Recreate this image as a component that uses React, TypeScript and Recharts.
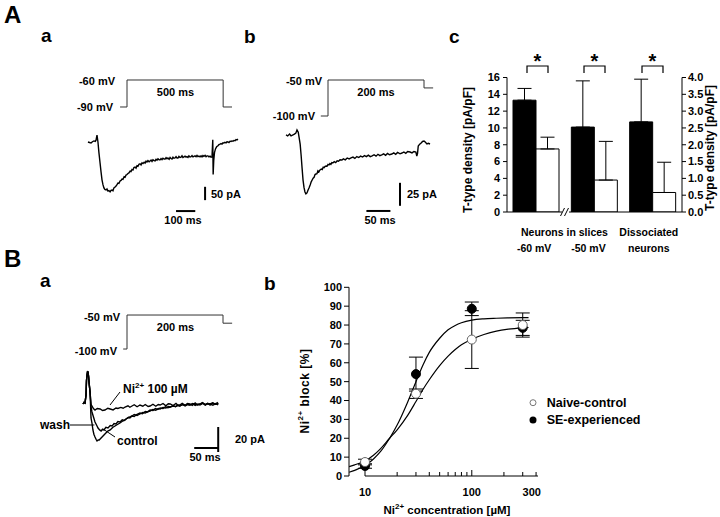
import React from 'react';
import {
  LineChart, Line, XAxis, YAxis, ReferenceLine,
  BarChart, Bar, ErrorBar, ComposedChart, Scatter, Legend,
} from 'recharts';

type Pt = [number, number];
type Seg = [Pt, Pt];

// ================= DATA =================
// Panel A a — voltage protocol (ms, mV) and T-current trace (ms, pA)
const aaProtocol: Pt[] = [[-36, -90], [0, -90], [0, -60], [500, -60], [500, -90], [546, -90]];
const aaCurrent: Pt[] = [
  [-203, 0], [-195, -2], [-187, -4], [-180, 1], [-172, 4], [-165, 2], [-161, 7], [-156, 26], [-151, 0],
  [-146, -40], [-140, -79], [-135, -112], [-130, -142], [-125, -160], [-120, -172], [-115, -178], [-109, -180],
  [-104, -176], [-99, -184], [-94, -182], [-88, -187], [-83, -181], [-78, -180], [-73, -183], [-68, -172],
  [-62, -169], [-57, -165], [-52, -160], [-47, -154], [-42, -155], [-36, -146], [-31, -144], [-26, -139],
  [-21, -140], [-15, -130], [-10, -132], [-5, -124], [0, -122], [5, -118], [10, -116], [16, -109], [21, -111],
  [26, -103], [31, -105], [36, -96], [42, -94], [47, -98], [52, -89], [57, -91], [62, -84], [68, -82], [73, -86],
  [78, -78], [83, -81], [89, -76], [94, -79], [99, -72], [104, -75], [109, -70], [115, -74], [120, -71], [125, -68],
  [130, -73], [135, -67], [141, -70], [146, -71], [151, -65], [156, -68], [161, -63], [167, -67], [172, -67],
  [177, -62], [182, -66], [187, -61], [193, -64], [198, -64], [203, -59], [208, -63], [213, -60], [219, -65],
  [224, -58], [229, -62], [234, -64], [239, -57], [244, -61], [250, -60], [255, -55], [260, -60], [265, -60],
  [270, -54], [276, -58], [281, -57], [286, -52], [291, -58], [296, -56], [302, -53], [307, -57], [312, -55],
  [317, -58], [322, -52], [328, -56], [333, -55], [338, -51], [343, -56], [348, -54], [354, -52], [359, -55],
  [364, -50], [369, -55], [374, -53], [380, -56], [385, -52], [390, -56], [395, -51], [400, -54], [406, -50],
  [411, -55], [416, -52], [421, -52], [426, -56], [432, -53], [437, -57], [442, -56], [446, 8], [448, -122],
  [451, -70], [455, -40], [460, -26], [466, -18], [473, -14], [478, -10], [484, -8], [489, -6], [494, -8],
  [499, -3], [504, -4], [509, -1], [515, -3], [520, 1], [525, 0], [530, -2], [536, 3], [541, 2], [546, 4],
  [551, 3], [556, 6], [562, 5], [567, 9], [572, 8], [577, 11],
];

// Panel A b
const abProtocol: Pt[] = [[-15, -100], [0, -100], [0, -50], [200, -50], [200, -61], [219, -61]];
const abCurrent: Pt[] = [
  [-87.5, 0], [-84, -1], [-80, 1], [-77, -1], [-73, 0], [-70, 1], [-67, 2], [-64.6, 5.4], [-62, 3], [-60.4, -2],
  [-58, -10], [-56, -22], [-54, -36], [-52, -49], [-50, -57], [-48, -62], [-46, -64], [-43.8, -63], [-41.7, -60],
  [-39.6, -57.6], [-37, -54], [-35, -51], [-33, -48.9], [-31, -47], [-29, -46], [-27, -43], [-25, -42.4], [-23, -42],
  [-21, -39], [-19, -40], [-16.7, -38], [-14, -37], [-12, -37.5], [-10, -35], [-8, -35.5], [-6, -34], [-4, -33.7],
  [-2, -34], [0, -32], [2, -32.5], [4, -31], [6, -32], [8, -30], [10, -30.4], [13, -29], [16, -30], [19, -28],
  [22, -28.5], [25, -27], [29, -27.2], [32, -26], [36, -27], [40, -25], [44, -26], [48, -25], [52, -24],
  [56, -25.5], [60, -23.5], [64, -24.5], [68, -23], [72, -24], [76, -22.5], [80, -23.5], [84, -22], [88, -23.5],
  [92, -22.8], [96, -21.5], [100, -23], [104, -21], [108, -22.5], [112, -21.7], [116, -20.5], [120, -22],
  [124, -20], [128, -21.5], [133, -20.7], [137, -19.5], [141, -21], [145, -19], [150, -20.5], [154, -19.6],
  [158, -18.5], [162, -20], [166, -18], [171, -18.5], [175, -19.5], [179, -18], [183, -18.5], [185, -23],
  [186.5, -20], [188, -12], [191, -10], [194, -8.7], [197, -7], [200, -6.5], [203, -8], [206, -9.8], [209, -9],
  [212.5, -9.8],
];

// Panel A c — T-type density (slices: pA/pF left axis; dissociated: pA/pF right axis)
const acCategories = ['Neurons in slices -60 mV', 'Neurons in slices -50 mV', 'Dissociated neurons'];
const acTickLines = [['', '-60 mV'], ['', '-50 mV'], ['Dissociated', 'neurons']];
const acSliceBlack = [13.3, 10.1];
const acSliceBlackSD = [1.4, 5.5];
const acSliceWhite = [7.5, 3.8];
const acSliceWhiteSD = [1.4, 4.6];
const acDissBlack = 2.68;
const acDissBlackSD = 1.27;
const acDissWhite = 0.58;
const acDissWhiteSD = 0.9;
const acLeftTicks = [0, 2, 4, 6, 8, 10, 12, 14, 16];
const acRightTicks = [0, 0.5, 1, 1.5, 2, 2.5, 3, 3.5, 4];

// Panel B a
const baProtocol: Pt[] = [[-8, -100], [0, -100], [0, -50], [200, -50], [200, -62], [219, -62]];
const baOnset: Pt[] = [
  [-91.7, -0.8], [-89.6, 0.5], [-87.5, 0], [-85.4, 6.4], [-84.4, 18], [-83.3, 22.4], [-82.3, 25],
  [-81.25, 24.8], [-80, 21], [-79, 16], [-77, 8.8],
];
const baNi: Pt[] = [
  [-75, -1], [-73, -2.4], [-70, -4.5], [-66.7, -5.6], [-62, -4.4], [-56, -4.8], [-51, -6], [-46, -5.6],
  [-40, -4.2], [-35, -4.8], [-29, -5.5], [-23, -4], [-19, -4.4], [-13, -3.5], [-8, -4.2], [-4, -3.2], [2, -2.2],
  [6, -3.4], [10.4, -2.4], [15, -1.4], [21, -3], [27, -1.6], [33, -2.6], [38, -1.2], [44, -2.8], [48, -2.4],
  [54, -1], [60, -2.6], [65, -1.2], [69, -1.6], [75, -0.4], [81, -2.2], [86, -0.6], [90, -0.8], [96, -2],
  [102, -0.4], [106, -1.8], [110, -1.6], [115, -0.2], [121, -1.8], [126, -0.4], [131, -0.8], [136, -2],
  [142, 0], [147, -1.6], [152, -0.8], [157, 0.4], [163, -1.4], [168, -0.2], [173, -1.6], [178, 0],
  [183, -1.2], [188, 0.2], [190, -0.8],
];
const baWash: Pt[] = [
  [-75, -3], [-73, -7.2], [-70, -11], [-66.7, -15.2], [-63, -18], [-60.4, -20], [-57, -21.5], [-54, -22.4],
  [-51, -21], [-48, -21.6], [-44, -19.5], [-39.6, -20], [-35, -18], [-31, -18.4], [-27, -16.5], [-23, -16.8],
  [-19, -14.8], [-14.6, -15.2], [-10, -13.5], [-6, -14], [-2, -12.8], [3, -11.5], [6, -12], [10.4, -10.4],
  [15, -10.8], [20, -9.2], [27, -8], [32, -8.6], [38, -6.8], [43, -7.2], [48, -5.6], [54, -6], [59, -4.4],
  [64, -5.2], [69, -4], [75, -4.4], [80, -3], [85, -3.8], [90, -3.2], [96, -2], [101, -3], [106, -2], [110, -2.4],
  [116, -1.2], [121, -2.4], [126, -1.4], [131, -1.6], [137, -0.6], [142, -2], [147, -1], [152, -1.6],
  [158, -0.4], [163, -1.8], [168, -0.6], [173, -0.8], [179, -1.8], [184, -0.4], [190, -1.6],
];
const baControl: Pt[] = [
  [-75, -12], [-73, -16], [-71, -21.6], [-69, -25], [-66.7, -27.2], [-64.5, -29], [-62.5, -30.4], [-60, -29.6],
  [-58, -29.6], [-55, -28.4], [-52, -27.2], [-48, -25.6], [-44, -24], [-40, -22.4], [-35, -21.6], [-30, -19.6],
  [-25, -18.4], [-20, -17.2], [-14.6, -16], [-9, -14.4], [-4, -13.6], [-2, -12.8], [4, -11.6], [10.4, -10.4],
  [15, -9.2], [21, -10], [27, -8.8], [33, -7.6], [38, -8], [44, -6.8], [48, -6.4], [54, -5.2], [60, -5.8],
  [65, -4.4], [69, -4.8], [75, -3.6], [81, -4], [86, -2.8], [90, -3.2], [96, -2.4], [101, -2.8], [106, -1.6],
  [110, -2.4], [116, -1.2], [121, -2], [126, -0.8], [131, -1.6], [137, -0.4], [142, -1.2], [147, -1.2],
  [152, -0.8], [158, 0], [163, -1.2], [168, -0.4], [173, -0.8], [179, 0.2], [184, -1], [190, -0.8],
];

// Panel B b — Ni2+ dose response
const bbConc = [10, 30, 100, 300];
const bbNaive = [7.4, 43.6, 72.3, 80.0];
const bbNaiveSEM = [1.5, 2.5, 15.3, 6.4];
const bbSE = [5.3, 54.0, 88.6, 78.5];
const bbSESEM = [1.2, 9.0, 3.6, 4.0];
const bbFitConc = [7.1, 8, 9, 10, 12, 14, 17, 20, 25, 30, 35, 40, 50, 60, 70, 80, 100, 130, 170, 220, 300, 340];
const bbFitSE = [2, 3, 4.2, 5.5, 9, 13, 20, 27, 39, 50, 59, 65.5, 73, 77.5, 79.8, 81.2, 82.6, 83.3, 83.6, 83.8, 83.9, 83.9];
const bbFitNaive = [5, 5.9, 6.9, 8, 11, 14.5, 20, 24.5, 32, 39.5, 46, 51, 58.5, 63.5, 67, 69.5, 72.5, 75, 76.8, 77.8, 78.5, 78.7];
const bbXTicks = [10, 20, 30, 40, 50, 60, 70, 80, 90, 100, 200, 300, 400];
const bbXLabels = [10, 100, 300];
const bbYTicks = [0, 10, 20, 30, 40, 50, 60, 70, 80, 90, 100];
const bbLegend = ['Naive-control', 'SE-experienced'];

// ================= HELPERS =================
const FONT = "'Liberation Sans', Arial, Helvetica, sans-serif";
const tickStyle = { fontSize: 11, fontWeight: 700, fill: '#000' };

interface TraceProps {
  left: number; top: number; width: number; height: number;
  tDomain: [number, number]; vDomain: [number, number]; iDomain: [number, number];
  protocol: Pt[]; currents: Pt[][]; bars: Seg[]; leaders?: Seg[];
}

const toRows = (pts: Pt[], key: string) => pts.map(([t, val]) => ({ t, [key]: val }));

function TracePanel(p: TraceProps) {
  return (
    <div style={{ position: 'absolute', left: p.left, top: p.top }}>
      <LineChart width={p.width} height={p.height} margin={{ top: 0, right: 0, bottom: 0, left: 0 }}>
        <XAxis type="number" dataKey="t" domain={p.tDomain} allowDataOverflow hide />
        <YAxis yAxisId="v" type="number" domain={p.vDomain} allowDataOverflow hide />
        <YAxis yAxisId="i" type="number" domain={p.iDomain} allowDataOverflow hide />
        <Line yAxisId="v" data={toRows(p.protocol, 'v')} dataKey="v" type="linear" stroke="#333"
          strokeWidth={1} dot={false} isAnimationActive={false} />
        {p.currents.map((c, k) => (
          <Line key={'c' + k} yAxisId="i" data={toRows(c, 'i')} dataKey="i" type="linear" stroke="#000"
            strokeWidth={1.4} dot={false} isAnimationActive={false} />
        ))}
        {p.bars.map((s, k) => (
          <ReferenceLine key={'b' + k} yAxisId="i" segment={[{ x: s[0][0], y: s[0][1] }, { x: s[1][0], y: s[1][1] }]}
            stroke="#000" strokeWidth={2} />
        ))}
        {(p.leaders || []).map((s, k) => (
          <ReferenceLine key={'l' + k} yAxisId="i" segment={[{ x: s[0][0], y: s[0][1] }, { x: s[1][0], y: s[1][1] }]}
            stroke="#000" strokeWidth={1} />
        ))}
      </LineChart>
    </div>
  );
}

const acDx = [-2, -6, -4];
function AcTick(props: any) {
  const { x, y, payload } = props;
  const idx = acCategories.indexOf(payload.value);
  const lines = acTickLines[idx] || ['', ''];
  return (
    <g>
      {lines.map((l, k) => (
        <text key={k} x={x + acDx[idx]} y={y + 24 + k * 16} textAnchor="middle" fontSize={10.5} fontWeight={700} fill="#000">{l}</text>
      ))}
    </g>
  );
}

function BbTick(props: any) {
  const { x, y, payload } = props;
  const v = payload.value;
  const major = v === 10 || v === 100;
  return (
    <g>
      <line x1={x} x2={x} y1={y} y2={y - (major ? 6 : 4)} stroke="#000" strokeWidth={1} />
      {bbXLabels.includes(v) && (
        <text x={x + (v === 300 ? 9 : 0)} y={y + 20} textAnchor="middle" fontSize={11} fontWeight={700} fill="#000">{v}</text>
      )}
    </g>
  );
}

const OpenDot = (props: any) => (
  <circle cx={props.cx} cy={props.cy} r={4.5} fill="#fff" stroke="#666" strokeWidth={1} />
);
const FilledDot = (props: any) => (
  <circle cx={props.cx} cy={props.cy} r={4.5} fill="#000" stroke="#000" strokeWidth={1} />
);

function BbLegend() {
  return (
    <svg width={130} height={36} style={{ fontFamily: FONT }}>
      <circle cx={5} cy={7.7} r={3} fill="#fff" stroke="#777" strokeWidth={1} />
      <text x={18.7} y={11.7} fontSize={12.5} fontWeight={700} fill="#000">{bbLegend[0]}</text>
      <circle cx={5} cy={25} r={3.5} fill="#000" />
      <text x={18.7} y={29} fontSize={12.5} fontWeight={700} fill="#000">{bbLegend[1]}</text>
    </svg>
  );
}

// ================= APP =================
export default function App() {
  const ratio = acLeftTicks[acLeftTicks.length - 1] / acRightTicks[acRightTicks.length - 1];
  const acTable = acCategories.map((name, k) =>
    k < 2
      ? { name, black: acSliceBlack[k], blackErr: [0, acSliceBlackSD[k]], white: acSliceWhite[k], whiteErr: [0, acSliceWhiteSD[k]] }
      : { name, black: acDissBlack * ratio, blackErr: [0, acDissBlackSD * ratio], white: acDissWhite * ratio, whiteErr: [0, acDissWhiteSD * ratio] }
  );
  const seFit = bbFitConc.map((x, k) => ({ x, y: bbFitSE[k] }));
  const naiveFit = bbFitConc.map((x, k) => ({ x, y: bbFitNaive[k] }));
  const sePts = bbConc.map((x, k) => ({ x, y: bbSE[k], e: bbSESEM[k] }));
  const naivePts = bbConc.map((x, k) => ({ x, y: bbNaive[k], e: bbNaiveSEM[k] }));

  const B = { fontWeight: 700, fill: '#000' } as const;

  return (
    <div style={{ position: 'absolute', left: 0, top: 0, width: 720, height: 517, background: '#fff', fontFamily: FONT, overflow: 'hidden' }}>
      {/* A a */}
      <TracePanel left={80} top={70} width={165} height={160}
        tDomain={[-244.4, 613.6]} vDomain={[-226.7, -48.9]} iDomain={[-330, 270]}
        protocol={aaProtocol} currents={[aaCurrent]}
        bars={[[[406, -168], [406, -218]], [[255, -259], [355, -259]]]} />
      {/* A b */}
      <TracePanel left={280} top={70} width={160} height={160}
        tDomain={[-100, 233.3]} vDomain={[-258.3, -36.1]} iDomain={[-103.3, 70.65]}
        protocol={abProtocol} currents={[abCurrent]}
        bars={[[[150, -52], [150, -77]], [[80, -82.6], [130, -82.6]]]} />
      {/* B a */}
      <TracePanel left={35} top={300} width={205} height={170}
        tDomain={[-191.7, 235.4]} vDomain={[-277.9, -27.9]} iDomain={[-53.6, 82.4]}
        protocol={baProtocol}
        currents={[baOnset.concat(baControl), baOnset.concat(baWash), baOnset.concat(baNi)]}
        bars={[[[190, -19.2], [190, -39.2]], [[140, -36], [190, -36]]]}
        leaders={[[[-14.6, 8.8], [-35.4, -1.6]], [[-118.75, -17.6], [-68, -17.6]], [[-25, -27.2], [-50, -20.8]]]} />

      {/* A c */}
      <div style={{ position: 'absolute', left: 440, top: 40 }}>
        <BarChart width={280} height={230} data={acTable} margin={{ top: 37.5, right: 0, bottom: 28, left: 0 }}
          barCategoryGap={6} barGap={0}>
          <XAxis dataKey="name" height={30} tickLine={false} tickSize={0} tickMargin={0} interval={0}
            axisLine={{ stroke: '#000' }} tick={<AcTick />} />
          <YAxis yAxisId="l" type="number" domain={[0, 16]} ticks={acLeftTicks} interval={0} width={67}
            tickSize={4} tickMargin={3} allowDataOverflow axisLine={{ stroke: '#000' }} tickLine={{ stroke: '#000' }} tick={tickStyle} />
          <YAxis yAxisId="r" type="number" orientation="right" domain={[0, 4]} ticks={acRightTicks} interval={0} width={38}
            tickSize={4} tickMargin={2} allowDataOverflow axisLine={{ stroke: '#000' }} tickLine={{ stroke: '#000' }}
            tick={tickStyle} tickFormatter={(v: number) => v.toFixed(1)} />
          <Bar yAxisId="l" dataKey="black" fill="#000" stroke="#000" strokeWidth={1} isAnimationActive={false}>
            <ErrorBar dataKey="blackErr" width={7} stroke="#000" strokeWidth={1} direction="y" />
          </Bar>
          <Bar yAxisId="l" dataKey="white" fill="#fff" stroke="#000" strokeWidth={1} isAnimationActive={false}>
            <ErrorBar dataKey="whiteErr" width={7} stroke="#000" strokeWidth={1} direction="y" />
          </Bar>
        </BarChart>
      </div>

      {/* B b */}
      <div style={{ position: 'absolute', left: 260, top: 270 }}>
        <ComposedChart width={460} height={247} margin={{ top: 17.3, right: 182, bottom: 11, left: 39 }}>
          <XAxis type="number" dataKey="x" scale="log" domain={[7.08, 417]} allowDataOverflow ticks={bbXTicks}
            interval={0} axisLine={false} tickLine={false} tickSize={0} tickMargin={0} height={30} tick={<BbTick />} />
          <YAxis type="number" dataKey="y" domain={[0, 100]} ticks={bbYTicks} interval={0} width={50} tickSize={5}
            tickMargin={2} allowDataOverflow axisLine={{ stroke: '#000' }} tickLine={{ stroke: '#000' }} tick={tickStyle} />
          <ReferenceLine segment={[{ x: 10, y: 0 }, { x: 417, y: 0 }]} stroke="#000" strokeWidth={1} />
          <Line data={seFit} dataKey="y" type="monotone" stroke="#000" strokeWidth={1.2} dot={false} isAnimationActive={false} />
          <Line data={naiveFit} dataKey="y" type="monotone" stroke="#000" strokeWidth={1.2} dot={false} isAnimationActive={false} />
          <Scatter data={sePts} dataKey="y" shape={FilledDot} isAnimationActive={false}>
            <ErrorBar dataKey="e" direction="y" width={7} stroke="#000" strokeWidth={1} />
          </Scatter>
          <Scatter data={naivePts} dataKey="y" shape={OpenDot} isAnimationActive={false}>
            <ErrorBar dataKey="e" direction="y" width={7} stroke="#000" strokeWidth={1} />
          </Scatter>
          <Legend layout="vertical" align="center" verticalAlign="middle" content={() => <BbLegend />}
            wrapperStyle={{ position: 'absolute', left: 268, top: 125, width: 130, height: 36 }} />
        </ComposedChart>
      </div>

      {/* Annotations */}
      <svg width={720} height={517} style={{ position: 'absolute', left: 0, top: 0, pointerEvents: 'none', fontFamily: FONT }}>
        {/* panel letters */}
        <text x={4} y={23} fontSize={24} {...B}>A</text>
        <text x={4} y={267} fontSize={24} {...B}>B</text>
        <text x={41} y={42} fontSize={19} {...B}>a</text>
        <text x={244} y={43} fontSize={19} {...B}>b</text>
        <text x={449} y={43} fontSize={19} {...B}>c</text>
        <text x={40} y={287} fontSize={19} {...B}>a</text>
        <text x={264} y={290} fontSize={19} {...B}>b</text>

        {/* A a labels */}
        <text x={115} y={85} fontSize={11} textAnchor="end" {...B}>-60 mV</text>
        <text x={113} y={111} fontSize={11} textAnchor="end" {...B}>-90 mV</text>
        <text x={175.5} y={96} fontSize={11} textAnchor="middle" {...B}>500 ms</text>
        <text x={211} y={198} fontSize={11} {...B}>50 pA</text>
        <text x={183} y={224} fontSize={11} textAnchor="middle" {...B}>100 ms</text>

        {/* A b labels */}
        <text x={322} y={85} fontSize={11} textAnchor="end" {...B}>-50 mV</text>
        <text x={315} y={120} fontSize={11} textAnchor="end" {...B}>-100 mV</text>
        <text x={376} y={96} fontSize={11} textAnchor="middle" {...B}>200 ms</text>
        <text x={407} y={198} fontSize={11} {...B}>25 pA</text>
        <text x={380} y={224} fontSize={11} textAnchor="middle" {...B}>50 ms</text>

        {/* A c annotations */}
        <text transform="translate(468,150) rotate(-90)" textAnchor="middle" dominantBaseline="central" fontSize={12} {...B}>T-type density [pA/pF]</text>
        <text transform="translate(710,148) rotate(-90)" textAnchor="middle" dominantBaseline="central" fontSize={12} {...B}>T-type density [pA/pF]</text>
        <text x={564.5} y={236} fontSize={10.5} textAnchor="middle" {...B}>Neurons in slices</text>
        <path d="M527 73 V66 H548 V73" fill="none" stroke="#000" strokeWidth={1.2} />
        <path d="M584 73 V66 H605 V73" fill="none" stroke="#000" strokeWidth={1.2} />
        <path d="M642 73 V66 H663 V73" fill="none" stroke="#000" strokeWidth={1.2} />
        <text x={537.5} y={68} fontSize={20} textAnchor="middle" {...B}>*</text>
        <text x={594.5} y={68} fontSize={20} textAnchor="middle" {...B}>*</text>
        <text x={652.5} y={68} fontSize={20} textAnchor="middle" {...B}>*</text>
        <rect x={562} y={209} width={7} height={6} fill="#fff" />
        <line x1={560.5} y1={216} x2={564.5} y2={208} stroke="#000" strokeWidth={1} />
        <line x1={564.5} y1={216} x2={568.5} y2={208} stroke="#000" strokeWidth={1} />

        {/* B a labels */}
        <text x={120} y={321} fontSize={11} textAnchor="end" {...B}>-50 mV</text>
        <text x={117} y={355} fontSize={11} textAnchor="end" {...B}>-100 mV</text>
        <text x={175.5} y={331} fontSize={11} textAnchor="middle" {...B}>200 ms</text>
        <text x={123} y={393} fontSize={12} {...B}>Ni<tspan fontSize={8} dy={-5}>2+</tspan><tspan dy={5}> 100 µM</tspan></text>
        <text x={40} y={429} fontSize={12} {...B}>wash</text>
        <text x={117} y={445} fontSize={12} {...B}>control</text>
        <text x={235} y={443} fontSize={11} {...B}>20 pA</text>
        <text x={205} y={461} fontSize={11} textAnchor="middle" {...B}>50 ms</text>

        {/* B b axis titles */}
        <text transform="translate(305,391) rotate(-90)" textAnchor="middle" dominantBaseline="central" fontSize={12} letterSpacing={0.5} {...B}>
          Ni<tspan fontSize={8} dy={-5}>2+</tspan><tspan dy={5}> block [%]</tspan>
        </text>
        <text x={447} y={514} fontSize={11.5} textAnchor="middle" {...B}>
          Ni<tspan fontSize={8} dy={-5}>2+</tspan><tspan dy={5}> concentration [µM]</tspan>
        </text>
      </svg>
    </div>
  );
}
